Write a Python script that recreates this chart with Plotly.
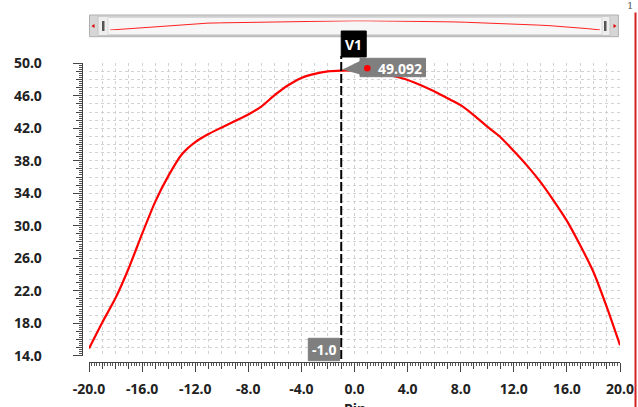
import plotly.graph_objects as go

# ---------------- data ----------------
pin = [-20, -19, -18, -17, -16, -15, -14, -13, -12, -11, -10, -9, -8, -7, -6, -5, -4, -3, -2, -1,
       0, 1, 2, 3, 4, 5, 6, 7, 8, 9, 10, 11, 12, 13, 14, 15, 16, 17, 18, 19, 20]
gain = [14.9, 18.1, 21.1, 24.8, 29.0, 33.0, 36.2, 38.8, 40.3, 41.3, 42.1, 42.9, 43.7, 44.7, 46.1,
        47.3, 48.2, 48.7, 49.0, 49.09, 49.12, 49.0, 48.75, 48.4, 47.95, 47.3, 46.55, 45.7, 44.85,
        43.6, 42.2, 40.9, 39.2, 37.4, 35.4, 33.1, 30.6, 27.6, 24.3, 20.0, 15.3]
x_tick_vals = [-20, -16, -12, -8, -4, 0, 4, 8, 12, 16, 20]
y_tick_vals = [14, 18, 22, 26, 30, 34, 38, 42, 46, 50]
marker_x = -1.0
marker_label = "V1"
marker_value = "49.092"
x_title = "Pin"

W, H = 638, 407
def px(x):
    return x / W
def py(y):
    return (H - y) / H

FONT = "Noto Sans"
TICKC = "#222222"

x_dom = [px(89), px(620)]
y_dom = [py(355.7), py(63.3)]

fig = go.Figure()
fig.add_trace(go.Scatter(x=pin, y=gain, mode="lines", line=dict(color="#ff0000", width=2.2, shape="spline", smoothing=0.6),
                         xaxis="x", yaxis="y", hoverinfo="skip", showlegend=False))
# invisible traces for the offset axis subplots
fig.add_trace(go.Scatter(x=pin, y=gain, mode="lines", line=dict(width=0), opacity=0,
                         xaxis="x2", yaxis="y2", hoverinfo="skip", showlegend=False))
fig.add_trace(go.Scatter(x=pin, y=gain, mode="lines", line=dict(width=0), opacity=0,
                         xaxis="x4", yaxis="y4", hoverinfo="skip", showlegend=False))
# mini curve in the range selector
fig.add_trace(go.Scatter(x=pin, y=gain, mode="lines", line=dict(color="#ff2020", width=1),
                         xaxis="x3", yaxis="y3", hoverinfo="skip", showlegend=False))

grid = dict(showgrid=True, gridcolor="#d2d2d2", griddash="dot", gridwidth=1, dtick=1, tick0=0,
            showticklabels=False, ticks="", showline=False, zeroline=False, fixedrange=True)

tickfont = dict(family=FONT, size=14, color=TICKC, weight="bold")

fig.update_layout(
    width=W, height=H, margin=dict(l=0, r=0, t=0, b=0),
    paper_bgcolor="white", plot_bgcolor="white",
    xaxis=dict(domain=x_dom, range=[-20, 20], anchor="y", **grid),
    yaxis=dict(domain=y_dom, range=[14, 50], anchor="x", **grid),
    xaxis2=dict(domain=x_dom, range=[-20, 20], overlaying="x", anchor="free", position=py(362.3),
                showgrid=False, zeroline=False, showline=True, linecolor="#444", linewidth=1,
                tickmode="array", tickvals=x_tick_vals, ticktext=[f"{v:.1f}" for v in x_tick_vals],
                ticks="outside", ticklen=9, tickwidth=1, tickcolor="#444", tickfont=tickfont,
                ticklabelstandoff=5,
                minor=dict(ticks="outside", ticklen=3, dtick=0.2, tick0=0, tickcolor="#555", showgrid=False),
                automargin=False, fixedrange=True),
    yaxis2=dict(domain=y_dom, range=[14, 50], overlaying="y", anchor="free", position=px(81.7),
                showgrid=False, zeroline=False, showline=True, linecolor="#444", linewidth=1,
                tickmode="array", tickvals=y_tick_vals, ticktext=[f"{v:.1f}" for v in y_tick_vals],
                ticks="outside", ticklen=9, tickwidth=1, tickcolor="#444", tickfont=tickfont,
                ticklabelstandoff=28,
                minor=dict(ticks="outside", ticklen=3, dtick=0.25, tick0=0, tickcolor="#555", showgrid=False),
                automargin=False, fixedrange=True),
    xaxis4=dict(domain=x_dom, range=[-20, 20], overlaying="x", anchor="free", position=py(362.3),
                showgrid=False, zeroline=False, showline=False, dtick=1, tick0=0, ticks="outside",
                ticklen=6, tickcolor="#444", showticklabels=False, fixedrange=True),
    yaxis4=dict(domain=y_dom, range=[14, 50], overlaying="y", anchor="free", position=px(81.7),
                showgrid=False, zeroline=False, showline=False, dtick=1, tick0=0, ticks="outside",
                ticklen=6, tickcolor="#444", showticklabels=False, fixedrange=True),
    xaxis3=dict(domain=[px(110), px(600)], range=[-20, 20], anchor="y3", visible=False, fixedrange=True),
    yaxis3=dict(domain=[py(30.3), py(20.5)], range=[14, 50], anchor="x3", visible=False, fixedrange=True),
)

shapes = []
# range selector body
shapes.append(dict(type="rect", xref="paper", yref="paper", x0=px(89.5), x1=px(618.4), y0=py(36.7), y1=py(15),
                   fillcolor="#d6d6d6", line=dict(color="#b0b0b0", width=1), layer="below"))
shapes.append(dict(type="rect", xref="paper", yref="paper", x0=px(98), x1=px(610), y0=py(35.5), y1=py(16.2),
                   fillcolor="#eeeeee", line=dict(color="#c4c4c4", width=1), layer="below"))
shapes.append(dict(type="rect", xref="paper", yref="paper", x0=px(108), x1=px(602), y0=py(34.5), y1=py(17.5),
                   fillcolor="#f6f6f6", line=dict(color="#d8d8d8", width=1), layer="below"))
for hx in (102, 604):
    shapes.append(dict(type="rect", xref="paper", yref="paper", x0=px(hx), x1=px(hx + 2.5), y0=py(31), y1=py(21),
                       fillcolor="#555", line=dict(width=0)))
shapes.append(dict(type="path", xref="paper", yref="paper",
                   path=f"M {px(91.5)} {py(26)} L {px(94.5)} {py(24)} L {px(94.5)} {py(28)} Z",
                   fillcolor="#e00000", line=dict(width=0)))
shapes.append(dict(type="path", xref="paper", yref="paper",
                   path=f"M {px(616.5)} {py(26)} L {px(613.5)} {py(24)} L {px(613.5)} {py(28)} Z",
                   fillcolor="#e00000", line=dict(width=0)))
# right red edge
shapes.append(dict(type="line", xref="paper", yref="paper", x0=px(635.5), x1=px(635.5), y0=py(12.5), y1=0,
                   line=dict(color="#d42020", width=2)))
# V1 dashed line
shapes.append(dict(type="line", xref="x", yref="paper", x0=marker_x, x1=marker_x, y0=py(359), y1=py(56),
                   line=dict(color="black", width=2, dash="9px,3px")))
# V1 box (pixel offset from marker line)
shapes.append(dict(type="rect", xref="x", yref="paper", x0=marker_x, x1=marker_x + 25 / 13.275,
                   y0=py(57), y1=py(31), fillcolor="black", line=dict(color="black", width=1)))
# value tooltip pointer + box
shapes.append(dict(type="path", xref="paper", yref="paper",
                   path=f"M {px(342.5)} {py(69.5)} L {px(362)} {py(60)} L {px(362)} {py(75)} Z",
                   fillcolor="#7f7f7f", line=dict(width=0)))
shapes.append(dict(type="rect", xref="paper", yref="paper", x0=px(360), x1=px(425.5), y0=py(76.7), y1=py(58.3),
                   fillcolor="#7f7f7f", line=dict(color="#7f7f7f", width=1)))
shapes.append(dict(type="circle", xref="paper", yref="paper", x0=px(364), x1=px(370.6), y0=py(71.6), y1=py(65),
                   fillcolor="#ff0000", line=dict(width=0)))
# bottom x-value box
shapes.append(dict(type="rect", xref="paper", yref="paper", x0=px(308.3), x1=px(339.5), y0=py(360.7), y1=py(338.3),
                   fillcolor="#7f7f7f", line=dict(color="#7f7f7f", width=1)))
fig.update_layout(shapes=shapes)

lab = dict(family=FONT, size=14, color="white", weight="bold")
fig.add_annotation(x=px(353.7), y=py(44), xref="paper", yref="paper", text=marker_label, showarrow=False,
                   font=lab, xanchor="center", yanchor="middle")
fig.add_annotation(x=px(399.5), y=py(68), xref="paper", yref="paper", text=marker_value, showarrow=False,
                   font=lab, xanchor="center", yanchor="middle")
fig.add_annotation(x=px(324), y=py(349.5), xref="paper", yref="paper", text=f"{marker_x:.1f}", showarrow=False,
                   font=lab, xanchor="center", yanchor="middle")
fig.add_annotation(x=px(630), y=py(5), xref="paper", yref="paper", text="1", showarrow=False,
                   font=dict(family="DejaVu Serif", size=10, color="#555"), xanchor="center", yanchor="middle")
# axis title (partly below the window edge, as in the reference)
fig.add_annotation(x=px(354.5), y=py(397), xref="paper", yref="paper", text=x_title, showarrow=False,
                   font=dict(family=FONT, size=14, color=TICKC, weight="bold"), xanchor="center", yanchor="top")

fig.write_html("out.html", config={"displayModeBar": False},
               post_script="document.body.style.margin='0';document.body.style.overflow='hidden';")
